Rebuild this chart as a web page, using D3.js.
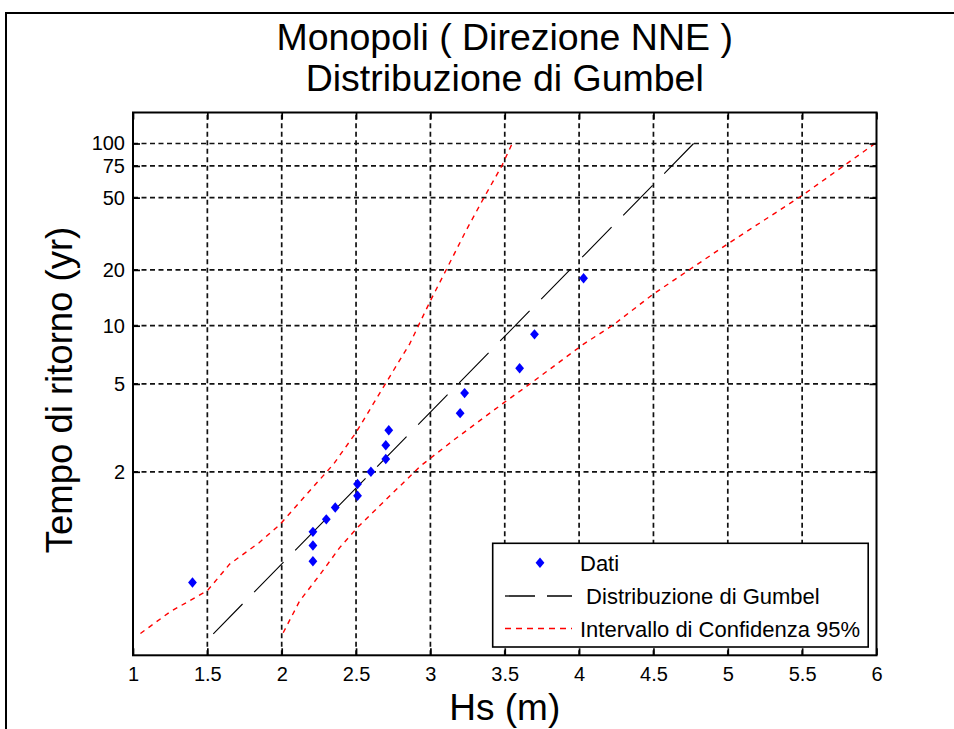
<!DOCTYPE html>
<html>
<head>
<meta charset="utf-8">
<script src="https://cdn.jsdelivr.net/npm/d3@7"></script>
<style>
  html, body { margin: 0; padding: 0; background: #ffffff; }
  svg { display: block; font-family: "Liberation Sans", Arial, Helvetica, sans-serif; }
</style>
</head>
<body>
<svg id="chart" width="954" height="729"></svg>
<script>
// ---- data ----
const dataHs = [1.40, 2.21, 2.21, 2.21, 2.30, 2.36, 2.51, 2.51, 2.60, 2.70, 2.70, 2.72, 3.20, 3.23, 3.60, 3.70, 4.03];
const dataT  = [1.059, 1.125, 1.2, 1.286, 1.385, 1.5, 1.636, 1.8, 2.0, 2.25, 2.571, 3.0, 3.6, 4.5, 6.0, 9.0, 18.0];

const fitHs = [4.77, 1.54];
const fitT  = [100, 1.0037];

const ciUpperHs = [1.05, 1.25, 1.50, 1.65, 1.85, 1.99, 2.17, 2.35, 2.50, 2.71, 2.86, 3.00, 3.11, 3.24, 3.36, 3.48, 3.55];
const ciUpperT  = [1.0038, 1.015, 1.042, 1.114, 1.217, 1.344, 1.66, 2.15, 2.93, 5.19, 8.0, 13.6, 20.3, 32.9, 50, 75, 100];

const ciLowerHs = [2.01, 2.12, 2.26, 2.39, 2.51, 2.93, 3.15, 3.49, 3.69, 4.03, 4.23, 4.50, 5.00, 5.50, 5.99];
const ciLowerT  = [1.004, 1.026, 1.081, 1.188, 1.318, 2.10, 2.69, 4.02, 5.13, 8.0, 10.1, 14.8, 27.8, 51.4, 100];

const xTicks = [1, 1.5, 2, 2.5, 3, 3.5, 4, 4.5, 5, 5.5, 6];
const yTicks = [2, 5, 10, 20, 50, 75, 100];

const titleLines = ["Monopoli ( Direzione NNE )", "Distribuzione di Gumbel"];
const xLabel = "Hs (m)";
const yLabel = "Tempo di ritorno (yr)";
const legendLabels = ["Dati", " Distribuzione di Gumbel", "Intervallo di Confidenza 95%"];

// ---- layout ----
const W = 954, H = 729;
const plot = { left: 133, right: 876.5, top: 112.5, bottom: 655.3 };

const svg = d3.select("#chart");

// figure border
svg.append("rect").attr("x", 0).attr("y", 0).attr("width", W).attr("height", H).attr("fill", "#ffffff");
svg.append("path")
  .attr("d", `M6,${H + 5} L6,13 L${W + 5},13`)
  .attr("fill", "none").attr("stroke", "#000").attr("stroke-width", 2);

// scales
const x = d3.scaleLinear().domain([1, 6]).range([plot.left, plot.right]);
const gumbel = T => -Math.log(-Math.log(1 - 1 / T));
const yr = d3.scaleLinear().domain([-2, 5]).range([plot.bottom, plot.top]);
const y = T => yr(gumbel(T));

const g = svg.append("g");

// grid
const grid = g.append("g").attr("stroke", "#111").attr("stroke-width", 1.7).attr("stroke-dasharray", "5,3.5");
grid.selectAll("line.vx").data(xTicks.slice(1, -1)).join("line")
  .attr("x1", d => x(d)).attr("x2", d => x(d))
  .attr("y1", plot.bottom).attr("y2", plot.top);
grid.selectAll("line.hy").data(yTicks).join("line")
  .attr("x1", plot.left).attr("x2", plot.right)
  .attr("y1", d => y(d)).attr("y2", d => y(d));

// confidence interval curves
const line = d3.line().x(d => x(d[0])).y(d => y(d[1]));
const ciUpper = ciUpperHs.map((h, i) => [h, ciUpperT[i]]);
const ciLower = ciLowerHs.map((h, i) => [h, ciLowerT[i]]);
[ciUpper, ciLower].forEach(c => {
  g.append("path").datum(c).attr("d", line)
    .attr("fill", "none").attr("stroke", "#ff0000").attr("stroke-width", 1.4)
    .attr("stroke-dasharray", "5,5");
});

// fitted Gumbel line
const fit = fitHs.map((h, i) => [h, fitT[i]]);
g.append("path").datum(fit).attr("d", line)
  .attr("fill", "none").attr("stroke", "#000").attr("stroke-width", 1.1)
  .attr("stroke-dasharray", "42,16.6");

// data points (diamonds)
const diamond = "M0,-5.2L4.4,0L0,5.2L-4.4,0Z";
g.selectAll("path.pt").data(dataHs.map((h, i) => [h, dataT[i]])).join("path")
  .attr("class", "pt")
  .attr("d", diamond)
  .attr("transform", d => `translate(${x(d[0])},${y(d[1])})`)
  .attr("fill", "#0000ff");

// axes
const tickLen = 7;
const fmt = d3.format("");
const xAxis = d3.axisBottom(x).tickValues(xTicks).tickSizeInner(-tickLen).tickSizeOuter(0).tickPadding(12).tickFormat(d => fmt(d));
const yAxis = d3.axisLeft(yr).tickValues(yTicks.map(gumbel)).tickSizeInner(-tickLen).tickSizeOuter(0).tickPadding(8)
  .tickFormat((d, i) => yTicks[i]);
const xTop = d3.axisTop(x).tickValues(xTicks).tickSizeInner(-tickLen).tickSizeOuter(0).tickFormat("");
const yRight = d3.axisRight(yr).tickValues(yTicks.map(gumbel)).tickSizeInner(-tickLen).tickSizeOuter(0).tickFormat("");

function styleAxis(sel) {
  sel.select(".domain").remove();
  sel.selectAll(".tick line").attr("stroke", "#000").attr("stroke-width", 1.7);
  sel.selectAll(".tick text").attr("fill", "#000").style("font-size", "20px")
    .style("font-family", '"Liberation Sans", Arial, sans-serif');
}
g.append("g").attr("transform", `translate(0,${plot.bottom})`).call(xAxis).call(styleAxis);
g.append("g").attr("transform", `translate(${plot.left},0)`).call(yAxis).call(styleAxis);
g.append("g").attr("transform", `translate(0,${plot.top})`).call(xTop).call(styleAxis);
g.append("g").attr("transform", `translate(${plot.right},0)`).call(yRight).call(styleAxis);

// axes box
g.append("rect")
  .attr("x", plot.left).attr("y", plot.top)
  .attr("width", plot.right - plot.left).attr("height", plot.bottom - plot.top)
  .attr("fill", "none").attr("stroke", "#000").attr("stroke-width", 2);

// titles
const title = svg.append("text").attr("text-anchor", "middle").style("font-size", "37.5px").attr("fill", "#000");
titleLines.forEach((t, i) => {
  title.append("tspan").attr("x", (plot.left + plot.right) / 2).attr("y", 50 + i * 41).text(t);
});
svg.append("text").attr("x", (plot.left + plot.right) / 2).attr("y", 720)
  .attr("text-anchor", "middle").style("font-size", "37px").attr("fill", "#000").text(xLabel);
svg.append("text").attr("transform", `translate(72,390) rotate(-90)`)
  .attr("text-anchor", "middle").style("font-size", "36.5px").attr("fill", "#000").text(yLabel);

// legend
const lg = svg.append("g");
lg.append("rect").attr("x", 492.7).attr("y", 543.3).attr("width", 375.5).attr("height", 103.7)
  .attr("fill", "#fff").attr("stroke", "#000").attr("stroke-width", 1.6);
const rows = [562.7, 596, 628.5];
lg.append("path").attr("d", diamond).attr("transform", `translate(540,${rows[0]})`).attr("fill", "#0000ff");
lg.append("line").attr("x1", 505).attr("x2", 572).attr("y1", rows[1]).attr("y2", rows[1])
  .attr("stroke", "#000").attr("stroke-width", 1.3).attr("stroke-dasharray", "30,12");
lg.append("line").attr("x1", 505).attr("x2", 572).attr("y1", rows[2]).attr("y2", rows[2])
  .attr("stroke", "#ff0000").attr("stroke-width", 1.4).attr("stroke-dasharray", "6,5");
lg.selectAll("text").data(legendLabels).join("text")
  .attr("x", 580).attr("y", (d, i) => rows[i] + 8)
  .style("font-size", "22px").style("white-space", "pre").attr("xml:space", "preserve")
  .attr("fill", "#000").text(d => d);
</script>
</body>
</html>
